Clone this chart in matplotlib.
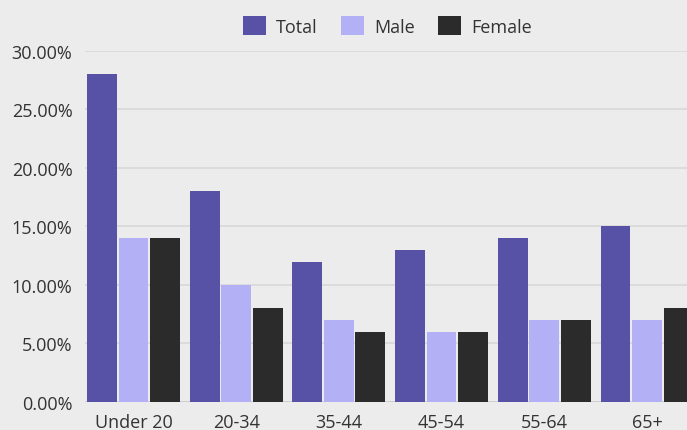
import numpy as np
import matplotlib

matplotlib.use("Agg")
from matplotlib import pyplot as plt
from matplotlib.ticker import FuncFormatter

categories = ["Under 20", "20-34", "35-44", "45-54", "55-64", "65+"]
total = [28, 18, 12, 13, 14, 15]
male = [14, 10, 7, 6, 7, 7]
female = [14, 8, 6, 6, 7, 8]

series_names = ["Total", "Male", "Female"]
series_colors = ["#5852a6", "#b3b0f5", "#2b2b2b"]

plt.rcParams["font.family"] = ["Open Sans", "DejaVu Sans"]

bg = "#ececec"
fig = plt.figure(figsize=(6.87, 4.31), dpi=100, facecolor=bg)
ax = fig.add_axes([0.1237, 0.065, 0.8763, 0.8144], facecolor=bg)

x = np.arange(len(categories))
width = 0.29
offsets = [-0.307, 0.0, 0.307]
for values, name, color, off in zip([total, male, female], series_names, series_colors, offsets):
    ax.bar(x + off, values, width=width, color=color, label=name, zorder=3)

ax.set_xlim(-0.472, 5.39)
ax.set_ylim(0, 30)
ax.set_yticks(np.arange(0, 31, 5))
ax.yaxis.set_major_formatter(FuncFormatter(lambda v, _: f"{v:.2f}%"))
ax.set_xticks(x)
ax.set_xticklabels(categories)

ax.grid(axis="y", color="#d6d6d6", linewidth=1.1, zorder=0)
ax.axhline(0, color="#cccccc", linewidth=1.2, zorder=2)
for side in ["top", "right", "left", "bottom"]:
    ax.spines[side].set_visible(False)
ax.tick_params(axis="both", length=0, labelsize=13, colors="#333333")
ax.tick_params(axis="x", pad=8)
ax.tick_params(axis="y", pad=9)

fig.legend(
    loc="center",
    bbox_to_anchor=(387.5 / 687, 0.938),
    ncol=3,
    frameon=False,
    fontsize=13,
    handlelength=1.28,
    handleheight=1.28,
    handletextpad=0.55,
    columnspacing=1.3,
    labelcolor="#333333",
)

fig.savefig("out.png", dpi=100, facecolor=bg)
